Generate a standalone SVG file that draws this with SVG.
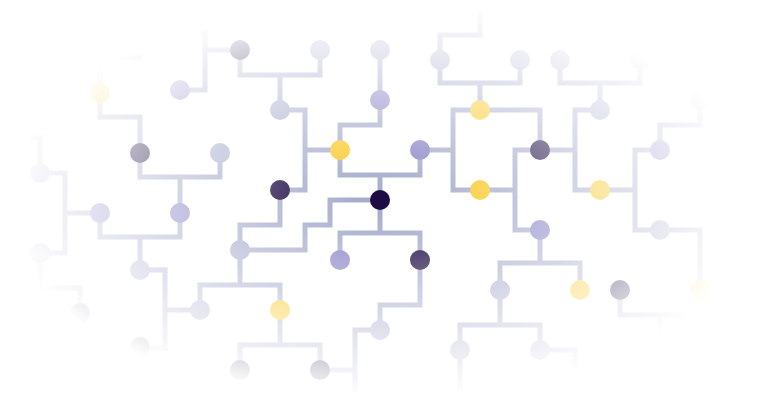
<svg xmlns="http://www.w3.org/2000/svg" width="760" height="400" viewBox="0 0 760 400">
  <style>
    .c { fill: none; stroke: #a8adcd; stroke-width: 5; stroke-linejoin: miter; }
    .dk { fill: #1e0d45; }
    .yl { fill: #f9ca2e; }
    .lv { fill: #8f8aca; }
    .gb { fill: #a8adcd; }
  </style>
  <defs>
    <radialGradient id="fadeGrad" cx="380" cy="200" r="380" gradientUnits="userSpaceOnUse" gradientTransform="translate(380 200) scale(1 0.5263) translate(-380 -200)">
      <stop offset="0" stop-color="#fff"/>
      <stop offset="0.06" stop-color="#fff"/>
      <stop offset="1" stop-color="#000"/>
    </radialGradient>
    <mask id="fade" maskUnits="userSpaceOnUse" x="0" y="0" width="760" height="400">
      <rect x="0" y="0" width="760" height="400" fill="url(#fadeGrad)"/>
    </mask>
  </defs>
  <rect x="0" y="0" width="760" height="400" fill="#ffffff"/>
  <g mask="url(#fade)">
    <g id="connectors">
      <path class="c" d="M205,30 V90 H180 M205,50 H240"/>
      <path class="c" d="M240,50 V75 H320 V50 M280,75 V110"/>
      <path class="c" d="M380,50 V100"/>
      <path class="c" d="M380,100 V125 H340 V150"/>
      <path class="c" d="M280,110 H305 V190 H280 M305,150 H340"/>
      <path class="c" d="M340,150 V175 H420 V150 M380,175 V200"/>
      <path class="c" d="M480,110 H453 V190 H480 M420,150 H453"/>
      <path class="c" d="M440,60 V35 H480 V10"/>
      <path class="c" d="M440,60 V83 H520 V60 M480,83 V110"/>
      <path class="c" d="M480,110 H540 V150"/>
      <path class="c" d="M540,150 H515 V230 H540 M480,190 H515"/>
      <path class="c" d="M560,60 V83 H640 V60 M600,83 V110"/>
      <path class="c" d="M600,110 H575 V190 H600 M575,150 H540"/>
      <path class="c" d="M660,150 H635 V230 H660 M600,190 H635"/>
      <path class="c" d="M660,150 V125 H700 V100"/>
      <path class="c" d="M660,230 H700 V290"/>
      <path class="c" d="M500,290 V263 H580 V290 M540,263 V230"/>
      <path class="c" d="M460,392 V325 H540 V350 M500,290 V325"/>
      <path class="c" d="M540,350 H575 V368"/>
      <path class="c" d="M620,290 V315 H685 M660,315 V332"/>
      <path class="c" d="M340,260 V233 H420 V260 M380,200 V233"/>
      <path class="c" d="M420,260 V305 H380 V330"/>
      <path class="c" d="M380,330 H355 V392 M320,370 H355"/>
      <path class="c" d="M240,370 V345 H320 V370 M280,310 V345"/>
      <path class="c" d="M200,310 V285 H280 V310 M240,285 V250"/>
      <path class="c" d="M240,250 H305 V225 H330 V200 H380"/>
      <path class="c" d="M240,250 V225 H280 V190"/>
      <path class="c" d="M140,270 H165 V348 H140 M165,310 H200"/>
      <path class="c" d="M100,213 V237 H180 V213 M140,237 V270"/>
      <path class="c" d="M140,153 V177 H220 V153 M180,177 V213"/>
      <path class="c" d="M100,93 V117 H140 V153"/>
      <path class="c" d="M100,93 V57 H142"/>
      <path class="c" d="M30,137 H40 V173"/>
      <path class="c" d="M40,173 H65 V253 H40 M65,213 H100"/>
      <path class="c" d="M40,253 V288 H80 V313"/>
    </g>
    <g id="n1"><circle class="dk" cx="380" cy="200" r="10"/></g>
    <g id="n2"><circle class="dk" cx="280" cy="190" r="10"/></g>
    <g id="n3"><circle class="dk" cx="420" cy="260" r="10"/></g>
    <g id="n4"><circle class="dk" cx="540" cy="150" r="10"/></g>
    <g id="n5"><circle class="dk" cx="140" cy="153" r="10"/></g>
    <g id="n6"><circle class="dk" cx="620" cy="290" r="10"/></g>
    <g id="n7"><circle class="dk" cx="240" cy="50" r="10"/></g>
    <g id="n8"><circle class="dk" cx="320" cy="370" r="10"/></g>
    <g id="n9"><circle class="dk" cx="240" cy="370" r="10"/></g>
    <g id="n10"><circle class="dk" cx="80" cy="313" r="10"/></g>
    <g id="n11"><circle class="dk" cx="140" cy="347" r="10"/></g>
    <g id="n12"><circle class="yl" cx="340" cy="150" r="10"/></g>
    <g id="n13"><circle class="yl" cx="480" cy="190" r="10"/></g>
    <g id="n14"><circle class="yl" cx="480" cy="110" r="10"/></g>
    <g id="n15"><circle class="yl" cx="600" cy="190" r="10"/></g>
    <g id="n16"><circle class="yl" cx="280" cy="310" r="10"/></g>
    <g id="n17"><circle class="yl" cx="580" cy="290" r="10"/></g>
    <g id="n18"><circle class="yl" cx="100" cy="93" r="10"/></g>
    <g id="n19"><circle class="yl" cx="700" cy="290" r="10"/></g>
    <g id="n20"><circle class="lv" cx="340" cy="260" r="10"/></g>
    <g id="n21"><circle class="lv" cx="420" cy="150" r="10"/></g>
    <g id="n22"><circle class="lv" cx="380" cy="100" r="10"/></g>
    <g id="n23"><circle class="lv" cx="180" cy="213" r="10"/></g>
    <g id="n24"><circle class="lv" cx="540" cy="230" r="10"/></g>
    <g id="n25"><circle class="lv" cx="180" cy="90" r="10"/></g>
    <g id="n26"><circle class="lv" cx="100" cy="213" r="10"/></g>
    <g id="n27"><circle class="lv" cx="660" cy="150" r="10"/></g>
    <g id="n28"><circle class="gb" cx="240" cy="250" r="10"/></g>
    <g id="n29"><circle class="gb" cx="280" cy="110" r="10"/></g>
    <g id="n30"><circle class="gb" cx="220" cy="153" r="10"/></g>
    <g id="n31"><circle class="gb" cx="500" cy="290" r="10"/></g>
    <g id="n32"><circle class="gb" cx="600" cy="110" r="10"/></g>
    <g id="n33"><circle class="gb" cx="380" cy="330" r="10"/></g>
    <g id="n34"><circle class="gb" cx="140" cy="270" r="10"/></g>
    <g id="n35"><circle class="gb" cx="200" cy="310" r="10"/></g>
    <g id="n36"><circle class="gb" cx="320" cy="50" r="10"/></g>
    <g id="n37"><circle class="gb" cx="380" cy="50" r="10"/></g>
    <g id="n38"><circle class="gb" cx="440" cy="60" r="10"/></g>
    <g id="n39"><circle class="gb" cx="520" cy="60" r="10"/></g>
    <g id="n40"><circle class="gb" cx="560" cy="60" r="10"/></g>
    <g id="n41"><circle class="gb" cx="640" cy="60" r="10"/></g>
    <g id="n42"><circle class="gb" cx="660" cy="230" r="10"/></g>
    <g id="n43"><circle class="gb" cx="460" cy="350" r="10"/></g>
    <g id="n44"><circle class="gb" cx="540" cy="350" r="10"/></g>
    <g id="n45"><circle class="gb" cx="40" cy="173" r="10"/></g>
    <g id="n46"><circle class="gb" cx="40" cy="253" r="10"/></g>
    <g id="n47"><circle class="gb" cx="700" cy="100" r="10"/></g>
    <g id="n48"><circle class="gb" cx="480" cy="0" r="10"/></g>
  </g>
</svg>
